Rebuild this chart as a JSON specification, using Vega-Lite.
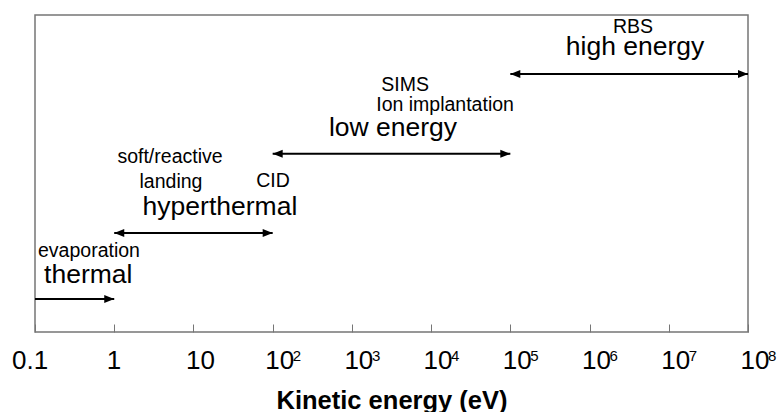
{
  "$schema": "https://vega.github.io/schema/vega-lite/v6.json",
  "autosize": "none",
  "width": 713,
  "height": 317,
  "padding": {"left": 35, "top": 15, "right": 32, "bottom": 80},
  "background": "white",
  "config": {
    "font": "Liberation Sans",
    "view": {"stroke": "#767676", "strokeWidth": 1.5},
    "axis": {"grid": false}
  },
  "datasets": {
    "ranges": [
      {"regime": "thermal", "from": 0.1, "to": 1, "level": 10.4},
      {"regime": "hyperthermal", "from": 1, "to": 100, "level": 31.2},
      {"regime": "low energy", "from": 100, "to": 100000, "level": 56.2},
      {"regime": "high energy", "from": 100000, "to": 100000000, "level": 81.4}
    ],
    "heads": [
      {"energy": 1, "level": 10.4, "dir": "right"},
      {"energy": 1, "level": 31.2, "dir": "left"},
      {"energy": 100, "level": 31.2, "dir": "right"},
      {"energy": 100, "level": 56.2, "dir": "left"},
      {"energy": 100000, "level": 56.2, "dir": "right"},
      {"energy": 100000, "level": 81.4, "dir": "left"},
      {"energy": 100000000, "level": 81.4, "dir": "right"}
    ],
    "labels": [
      {"text": "thermal", "energy": 0.47, "level": 15.5, "role": "regime"},
      {"text": "evaporation", "energy": 0.48, "level": 23.7, "role": "method"},
      {"text": "hyperthermal", "energy": 21.6, "level": 36.9, "role": "regime"},
      {"text": "landing", "energy": 5.2, "level": 45.4, "role": "method"},
      {"text": "soft/reactive", "energy": 5.06, "level": 53.3, "role": "method"},
      {"text": "CID", "energy": 101, "level": 45.6, "role": "method"},
      {"text": "low energy", "energy": 3300, "level": 61.8, "role": "regime"},
      {"text": "Ion implantation", "energy": 15000, "level": 69.7, "role": "method"},
      {"text": "SIMS", "energy": 4700, "level": 76.0, "role": "method"},
      {"text": "high energy", "energy": 3750000, "level": 87.4, "role": "regime"},
      {"text": "RBS", "energy": 3540000, "level": 94.4, "role": "method"}
    ],
    "exponents": [
      {"energy": 100, "exp": "2"},
      {"energy": 1000, "exp": "3"},
      {"energy": 10000, "exp": "4"},
      {"energy": 100000, "exp": "5"},
      {"energy": 1000000, "exp": "6"},
      {"energy": 10000000, "exp": "7"},
      {"energy": 100000000, "exp": "8"}
    ]
  },
  "layer": [
    {
      "data": {"name": "ranges"},
      "mark": {"type": "rule", "color": "black", "strokeWidth": 2},
      "encoding": {
        "x": {
          "field": "from",
          "type": "quantitative",
          "scale": {"type": "log", "domain": [0.1, 100000000], "nice": false},
          "axis": {
            "values": [0.1, 1, 10, 100, 1000, 10000, 100000, 1000000, 10000000, 100000000],
            "labelExpr": "datum.value < 0.5 ? '0.1' : datum.value < 5 ? '1' : '10'",
            "domain": false,
            "tickSize": -8,
            "tickColor": "#767676",
            "tickWidth": 1,
            "labelFontSize": 26,
            "labelColor": "black",
            "labelAlign": "left",
            "labelBaseline": "alphabetic",
            "labelOffset": {"condition": {"test": "datum.value < 0.5", "value": -23.5}, "value": -8},
            "labelPadding": 44,
            "labelFlush": false,
            "labelOverlap": false,
            "labelBound": false,
            "title": "Kinetic energy (eV)",
            "titleFontSize": 25.5,
            "titleFontWeight": "bold",
            "titleColor": "black",
            "titleBaseline": "alphabetic",
            "titleY": 76
          }
        },
        "x2": {"field": "to"},
        "y": {
          "field": "level",
          "type": "quantitative",
          "scale": {"domain": [0, 100], "nice": false},
          "axis": null
        }
      }
    },
    {
      "data": {"name": "heads"},
      "mark": {"type": "point", "filled": true, "color": "black", "opacity": 1, "size": 100, "strokeWidth": 0},
      "encoding": {
        "x": {"field": "energy", "type": "quantitative"},
        "y": {"field": "level", "type": "quantitative"},
        "shape": {
          "field": "dir",
          "type": "nominal",
          "scale": {
            "domain": ["right", "left"],
            "range": ["M0,0L-2,-0.8L-2,0.8Z", "M0,0L2,-0.8L2,0.8Z"]
          },
          "legend": null
        }
      }
    },
    {
      "data": {"name": "exponents"},
      "mark": {"type": "text", "fontSize": 15, "align": "left", "baseline": "alphabetic", "color": "black", "dx": 20, "dy": 29},
      "encoding": {
        "x": {"field": "energy", "type": "quantitative"},
        "y": {"datum": 0, "type": "quantitative"},
        "text": {"field": "exp"}
      }
    },
    {
      "data": {"name": "labels"},
      "transform": [{"filter": "datum.role === 'method'"}],
      "mark": {"type": "text", "fontSize": 19.5, "align": "center", "baseline": "alphabetic", "color": "black"},
      "encoding": {
        "x": {"field": "energy", "type": "quantitative"},
        "y": {"field": "level", "type": "quantitative"},
        "text": {"field": "text"}
      }
    },
    {
      "data": {"name": "labels"},
      "transform": [{"filter": "datum.role === 'regime'"}],
      "mark": {"type": "text", "fontSize": 26.5, "align": "center", "baseline": "alphabetic", "color": "black"},
      "encoding": {
        "x": {"field": "energy", "type": "quantitative"},
        "y": {"field": "level", "type": "quantitative"},
        "text": {"field": "text"}
      }
    }
  ]
}
